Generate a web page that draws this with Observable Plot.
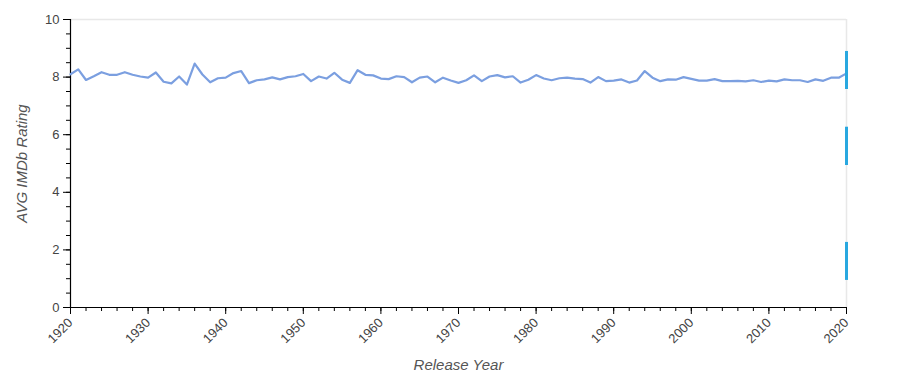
<!DOCTYPE html>
<html>
<head>
<meta charset="utf-8">
<script src="https://cdn.jsdelivr.net/npm/d3@7"></script>
<script src="https://cdn.jsdelivr.net/npm/@observablehq/plot@0.6"></script>
<style>
  body { margin: 0; background: #fff; }
  #chart svg { font-family: "Liberation Sans", Arial, sans-serif; }
  #chart svg g[aria-label$="tick label"] { font-size: 13px !important; }
  #chart svg g[aria-label$="tick label"] text { font-size: 13px !important; }
</style>
</head>
<body>
<div id="chart"></div>
<script>
const years = d3.range(1920, 2021);
const ratings = [
  8.10, 8.27, 7.90, 8.03, 8.17, 8.08, 8.08, 8.17, 8.08, 8.02,
  7.98, 8.16, 7.84, 7.78, 8.02, 7.74, 8.47, 8.09, 7.82, 7.96,
  7.98, 8.14, 8.21, 7.79, 7.89, 7.92, 7.99, 7.92, 8.00, 8.03,
  8.11, 7.86, 8.02, 7.95, 8.15, 7.91, 7.80, 8.24, 8.08, 8.06,
  7.95, 7.93, 8.03, 8.00, 7.82, 7.98, 8.02, 7.82, 7.98, 7.88,
  7.80, 7.89, 8.06, 7.86, 8.02, 8.07, 7.99, 8.03, 7.81, 7.91,
  8.07, 7.95, 7.89, 7.96, 7.98, 7.95, 7.93, 7.81, 8.00, 7.86,
  7.88, 7.92, 7.81, 7.88, 8.21, 7.98, 7.86, 7.92, 7.91, 8.00,
  7.94, 7.88, 7.88, 7.93, 7.86, 7.86, 7.87, 7.85, 7.89, 7.83,
  7.88, 7.85, 7.92, 7.89, 7.89, 7.83, 7.92, 7.87, 7.98, 7.98,
  8.13
];
const markerLow = [7.57, 4.93, 0.94];
const markerHigh = [8.89, 6.26, 2.26];
const xMajor = d3.range(1920, 2021, 10);
const xMinor = d3.range(1920, 2021, 2);
const yMajor = [0, 2, 4, 6, 8, 10];
const yMinor = d3.range(0, 10.01, 0.5);

const data = years.map((y, i) => ({year: y, rating: ratings[i]}));
const markers = markerLow.map((lo, i) => ({lo, hi: markerHigh[i]}));

const chart = Plot.plot({
  width: 909,
  height: 386,
  marginLeft: 70,
  marginRight: 63,
  marginTop: 19,
  marginBottom: 79,
  x: {domain: [1920, 2020]},
  y: {domain: [0, 10]},
  style: {fontSize: "13px", color: "#444"},
  marks: [
    Plot.ruleY([10], {stroke: "#e8e8e8", strokeWidth: 1.5}),
    Plot.ruleX([2020], {stroke: "#e8e8e8", strokeWidth: 1.5}),
    Plot.axisX({ticks: xMinor, tickSize: 4, tickFormat: null, text: null, label: null, stroke: "#000"}),
    Plot.axisX({ticks: xMajor, tickSize: 7, tickFormat: d => String(d), tickRotate: -45, tickPadding: 6, label: null, stroke: "#000", fill: "#444", fontSize: 13}),
    Plot.axisY({ticks: yMinor, tickSize: 4, text: null, label: null, stroke: "#000"}),
    Plot.axisY({ticks: yMajor, tickSize: 7, tickPadding: 4, label: null, stroke: "#000", fill: "#444", fontSize: 13}),
    Plot.ruleY([0], {stroke: "#000", strokeWidth: 1.2}),
    Plot.ruleX([1920], {stroke: "#000", strokeWidth: 1.2}),
    Plot.lineY(data, {x: "year", y: "rating", stroke: "#7b9fe0", strokeWidth: 2.2}),
    Plot.ruleX(markers, {x: () => 2020, y1: "lo", y2: "hi", stroke: "#29a8e0", strokeWidth: 3}),
    Plot.text(["Release Year"], {frameAnchor: "bottom", dy: 62, fontStyle: "italic", fontSize: 15, fill: "#555"}),
    Plot.text(["AVG IMDb Rating"], {frameAnchor: "left", textAnchor: "middle", dx: -48, rotate: -90, fontStyle: "italic", fontSize: 15, fill: "#555"})
  ]
});
document.getElementById("chart").appendChild(chart);
</script>
</body>
</html>
